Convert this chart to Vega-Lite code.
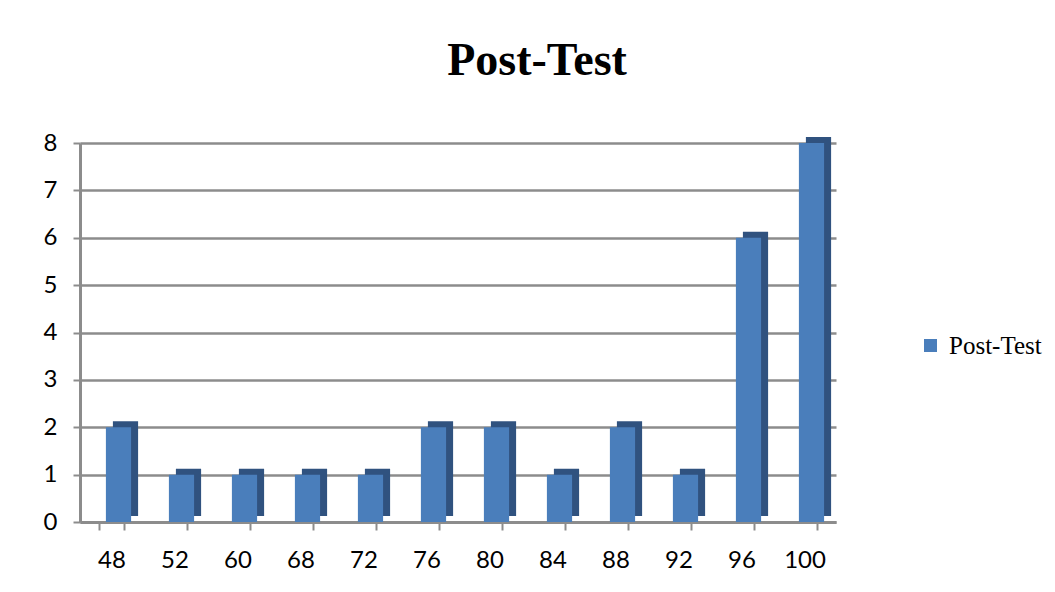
{
  "$schema": "https://vega.github.io/schema/vega-lite/v6.json",
  "autosize": "none",
  "width": 756,
  "height": 379,
  "padding": {"left": 80, "top": 143, "right": 219, "bottom": 70},
  "background": "white",
  "title": {
    "text": "Post-Test",
    "font": "Liberation Serif",
    "fontSize": 46,
    "fontWeight": "bold",
    "color": "black",
    "anchor": "middle",
    "dx": 79,
    "offset": 46
  },
  "data": {
    "values": [
      {"score": "48", "count": 2, "series": "Post-Test"},
      {"score": "52", "count": 1, "series": "Post-Test"},
      {"score": "60", "count": 1, "series": "Post-Test"},
      {"score": "68", "count": 1, "series": "Post-Test"},
      {"score": "72", "count": 1, "series": "Post-Test"},
      {"score": "76", "count": 2, "series": "Post-Test"},
      {"score": "80", "count": 2, "series": "Post-Test"},
      {"score": "84", "count": 1, "series": "Post-Test"},
      {"score": "88", "count": 2, "series": "Post-Test"},
      {"score": "92", "count": 1, "series": "Post-Test"},
      {"score": "96", "count": 6, "series": "Post-Test"},
      {"score": "100", "count": 8, "series": "Post-Test"}
    ]
  },
  "encoding": {
    "x": {
      "field": "score",
      "type": "ordinal",
      "sort": null,
      "scale": {"paddingInner": 0.6, "paddingOuter": 0.3},
      "axis": {
        "title": null,
        "labelAngle": 0,
        "labelFont": "Lato",
        "labelFontSize": 24,
        "labelColor": "black",
        "labelPadding": 18,
        "tickBand": "extent",
        "tickSize": 8,
        "tickColor": "#8c8c8c",
        "tickWidth": 2,
        "domainColor": "#8c8c8c",
        "domainWidth": 3,
        "grid": false
      }
    },
    "y": {
      "field": "count",
      "type": "quantitative",
      "scale": {"domain": [0, 8]},
      "axis": {
        "title": null,
        "values": [0, 1, 2, 3, 4, 5, 6, 7, 8],
        "labelFont": "Lato",
        "labelFontSize": 24,
        "labelColor": "black",
        "labelPadding": 16,
        "tickSize": 7,
        "tickColor": "#8c8c8c",
        "tickWidth": 2,
        "domainColor": "#8c8c8c",
        "domainWidth": 3,
        "gridColor": "#8c8c8c",
        "gridWidth": 2.5
      }
    }
  },
  "layer": [
    {
      "mark": {"type": "bar", "color": "#30527f", "xOffset": 14, "yOffset": -6},
      "encoding": {}
    },
    {
      "mark": {"type": "bar", "xOffset": 7},
      "encoding": {
        "color": {
          "field": "series",
          "type": "nominal",
          "scale": {"range": ["#4a7ebb"]},
          "legend": {
            "title": null,
            "orient": "none",
            "legendX": 838,
            "legendY": 190,
            "symbolType": "square",
            "symbolSize": 170,
            "symbolStrokeWidth": 0,
            "labelFont": "Liberation Serif",
            "labelFontSize": 25,
            "labelColor": "black",
            "labelOffset": 6
          }
        }
      }
    }
  ],
  "config": {
    "view": {"stroke": null}
  }
}
